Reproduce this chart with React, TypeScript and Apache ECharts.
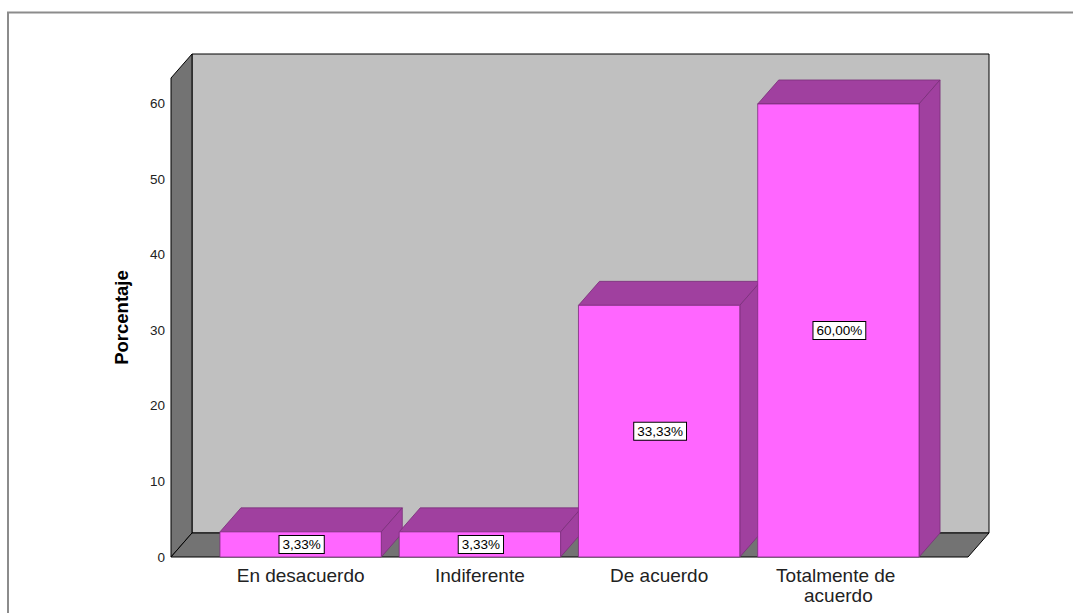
import React, { useEffect, useRef } from "react";
import * as echarts from "echarts";

const categories = ["En desacuerdo", "Indiferente", "De acuerdo", "Totalmente de acuerdo"];
const percentages = [3.33, 3.33, 33.33, 60.0];
const yAxisMax = 63.44;
const yAxisInterval = 10;

const DX = 21;
const DY = -24;
const PAD = 40;
const FONT = '"Liberation Sans", Arial, sans-serif';

const FRONT = "#ff66ff";
const TOPC = "#a0409f";
const SIDE = "#a0409f";
const EDGE = "#7a2e7a";

function fmt(v: number) {
  return v.toFixed(2).replace(".", ",") + "%";
}

export default function App() {
  const ref = useRef<HTMLDivElement>(null);
  useEffect(() => {
    if (!ref.current) return;
    const chart = echarts.init(ref.current, undefined, { renderer: "svg" });
    const option: any = {
      animation: false,
      backgroundColor: "#ffffff",
      graphic: [
        {
          type: "rect",
          shape: { x: 8, y: 12.5, width: 1200, height: 800 },
          style: { fill: "none", stroke: "#8c8c8c", lineWidth: 2 },
          z: 0,
        },
      ],
      grid: { left: 211, right: 145, top: 78, bottom: 56 },
      xAxis: {
        type: "category",
        data: categories,
        axisLine: { show: false },
        axisTick: { show: false },
        axisLabel: {
          interval: 0,
          margin: 8,
          fontSize: 19,
          lineHeight: 20,
          color: "#222",
          fontFamily: FONT,
          width: 170,
          overflow: "break",
        },
      },
      yAxis: {
        type: "value",
        min: 0,
        max: yAxisMax,
        interval: yAxisInterval,
        name: "Porcentaje",
        nameLocation: "middle",
        nameGap: 80,
        nameTextStyle: { fontSize: 18.5, fontWeight: "bold", color: "#000", fontFamily: FONT },
        axisLine: { show: false },
        axisTick: { show: false },
        splitLine: { show: false },
        axisLabel: {
          margin: 46,
          fontSize: 13.5,
          color: "#222",
          fontFamily: FONT,
          formatter: (v: number) => (Math.abs(v % 10) < 1e-6 ? String(v) : ""),
        },
      },
      series: [
        {
          type: "custom",
          z: 1,
          silent: true,
          data: [[0, 0]],
          renderItem: (params: any) => {
            const cs = params.coordSys;
            const x0 = cs.x - PAD;
            const x1 = cs.x + cs.width + PAD;
            const yT = cs.y;
            const yB = cs.y + cs.height;
            return {
              type: "group",
              children: [
                {
                  type: "rect",
                  shape: { x: x0 + DX, y: yT + DY, width: x1 - x0, height: yB - yT },
                  style: { fill: "#c0c0c0", stroke: "#000", lineWidth: 1 },
                },
                {
                  type: "polygon",
                  shape: { points: [[x0, yB], [x0, yT], [x0 + DX, yT + DY], [x0 + DX, yB + DY]] },
                  style: { fill: "#737373", stroke: "#000", lineWidth: 1 },
                },
                {
                  type: "polygon",
                  shape: { points: [[x0, yB], [x1, yB], [x1 + DX, yB + DY], [x0 + DX, yB + DY]] },
                  style: { fill: "#737373", stroke: "#000", lineWidth: 1 },
                },
              ],
            };
          },
        },
        {
          type: "custom",
          z: 2,
          silent: true,
          data: percentages.map((v, i) => [i, v]),
          renderItem: (params: any, api: any) => {
            const idx = api.value(0);
            const val = api.value(1);
            const top = api.coord([idx, val]);
            const base = api.coord([idx, 0]);
            const band = api.size([1, 0])[0];
            const w = band * 0.9;
            const xl = top[0] - w / 2;
            const xr = top[0] + w / 2;
            const yt = top[1];
            const yb = base[1];
            return {
              type: "group",
              children: [
                {
                  type: "polygon",
                  shape: { points: [[xl, yt], [xr, yt], [xr + DX, yt + DY], [xl + DX, yt + DY]] },
                  style: { fill: TOPC, stroke: EDGE, lineWidth: 0.8 },
                },
                {
                  type: "polygon",
                  shape: { points: [[xr, yt], [xr + DX, yt + DY], [xr + DX, yb + DY], [xr, yb]] },
                  style: { fill: SIDE, stroke: EDGE, lineWidth: 0.8 },
                },
                {
                  type: "rect",
                  shape: { x: xl, y: yt, width: w, height: yb - yt },
                  style: { fill: FRONT, stroke: EDGE, lineWidth: 0.8 },
                },
                {
                  type: "text",
                  x: top[0] + 1,
                  y: (yt + yb) / 2,
                  style: {
                    text: fmt(val),
                    fill: "#000",
                    font: `13.5px ${FONT}`,
                    align: "center",
                    verticalAlign: "middle",
                    backgroundColor: "#fff",
                    borderColor: "#000",
                    borderWidth: 1,
                    padding: [2, 3, 1, 3],
                  },
                },
              ],
            };
          },
        },
      ],
    };
    chart.setOption(option);
    return () => chart.dispose();
  }, []);
  return (
    <div
      ref={ref}
      style={{ position: "absolute", left: 0, top: 0, width: 1073, height: 613 }}
    />
  );
}
